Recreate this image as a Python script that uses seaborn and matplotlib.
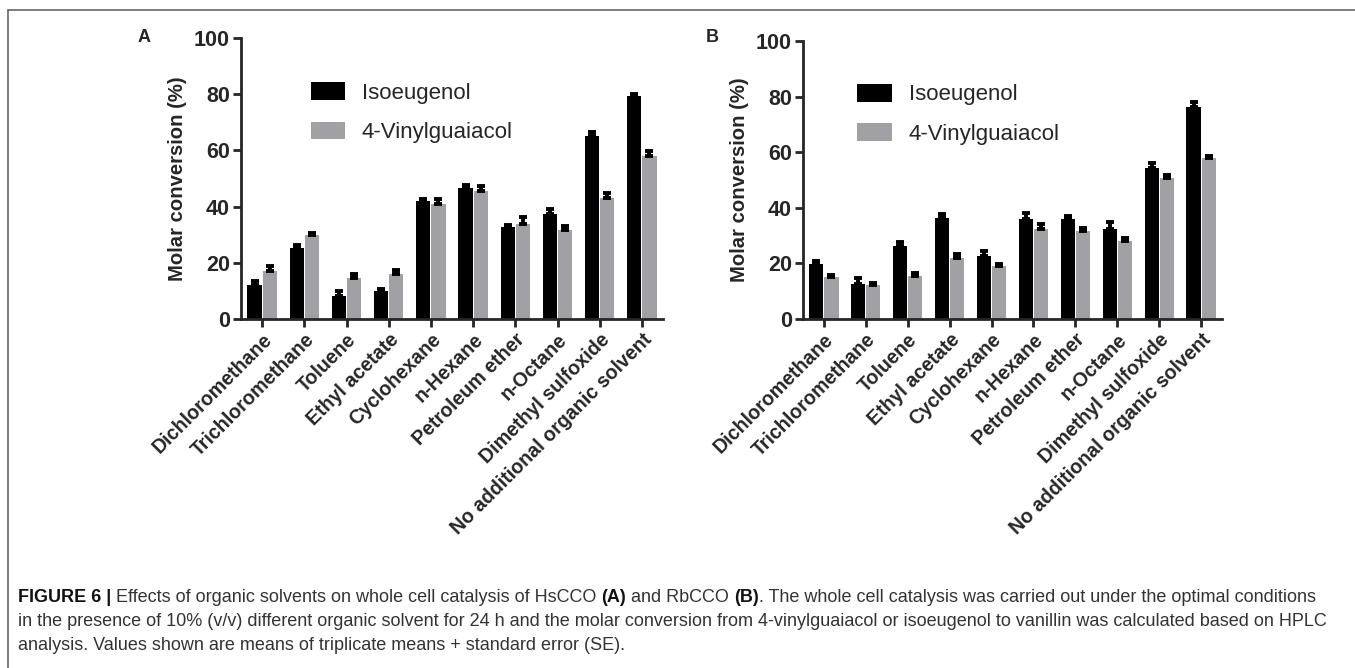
import matplotlib
matplotlib.use("Agg")
import matplotlib.pyplot as plt
import seaborn as sns
import pandas as pd
from matplotlib.lines import Line2D

# solvents on the x axis (same for both panels)
solvents = ["Dichloromethane", "Trichloromethane", "Toluene", "Ethyl acetate",
            "Cyclohexane", "n-Hexane", "Petroleum ether", "n-Octane",
            "Dimethyl sulfoxide", "No additional organic solvent"]
compounds = ["Isoeugenol", "4-Vinylguaiacol"]

# panel A (HsCCO), molar conversion %, and SE
a_iso = [12.2, 25.1, 8.1, 10.1, 41.9, 46.6, 32.7, 37.4, 65.2, 79.5]
a_vg = [17.2, 29.8, 14.5, 15.9, 40.9, 45.7, 33.7, 31.8, 43.1, 58.0]
a_iso_se = [1.4, 1.4, 1.7, 0.7, 0.9, 1.0, 0.6, 1.7, 1.2, 0.7]
a_vg_se = [1.5, 0.8, 1.6, 1.4, 1.9, 1.6, 2.5, 1.4, 1.7, 1.8]

# panel B (RbCCO)
b_iso = [19.9, 12.6, 26.4, 36.5, 22.8, 35.9, 35.9, 32.4, 54.4, 76.3]
b_vg = [15.0, 12.1, 15.3, 21.9, 19.1, 32.3, 31.8, 28.2, 50.8, 57.8]
b_iso_se = [0.8, 2.1, 1.4, 1.3, 1.8, 2.4, 1.3, 2.6, 1.6, 1.8]
b_vg_se = [0.9, 0.8, 1.2, 1.5, 0.6, 1.9, 1.0, 0.9, 1.0, 0.9]

# caption lines as (text, bold) pieces
caption_lines = [
    [("FIGURE 6 |", True), (" Effects of organic solvents on whole cell catalysis of HsCCO ", False),
     ("(A)", True), (" and RbCCO ", False), ("(B)", True),
     (". The whole cell catalysis was carried out under the optimal conditions", False)],
    [("in the presence of 10% (v/v) different organic solvent for 24 h and the molar conversion "
      "from 4-vinylguaiacol or isoeugenol to vanillin was calculated based on HPLC", False)],
    [("analysis. Values shown are means of triplicate means + standard error (SE).", False)],
]

sns.set_style("ticks")
plt.rcParams['font.family'] = ['Liberation Sans', 'DejaVu Sans']

colors = {"Isoeugenol": "#000000", "4-Vinylguaiacol": "#a1a1a5"}

W, H = 1355, 668
fig = plt.figure(figsize=(W / 100, H / 100), dpi=100)


def make_df(iso, vg):
    return pd.DataFrame({
        "solvent": solvents * 2,
        "compound": [compounds[0]] * len(solvents) + [compounds[1]] * len(solvents),
        "value": list(iso) + list(vg),
    })


def draw_panel(rect, iso, vg, iso_se, vg_se, letter, letter_xy, leg_anchor):
    ax = fig.add_axes(rect)
    df = make_df(iso, vg)
    sns.barplot(data=df, x="solvent", y="value", hue="compound", order=solvents,
                hue_order=compounds, palette=colors, width=0.72, gap=0.06,
                errorbar=None, linewidth=0, ax=ax)
    # upward-only error bars on top of each bar
    for cont, se in zip(ax.containers, [iso_se, vg_se]):
        xs = [p.get_x() + p.get_width() / 2 for p in cont.patches]
        hs = [p.get_height() for p in cont.patches]
        ax.errorbar(xs, hs, yerr=[[0] * len(se), se], fmt="none", ecolor="black",
                    elinewidth=2.8, capsize=3.2, capthick=2.8, zorder=3)
    ax.set_xlim(-0.5, 9.5)
    ax.set_ylim(0, 100)
    ax.set_yticks([0, 20, 40, 60, 80, 100])
    ax.set_xlabel("")
    ax.set_ylabel("Molar conversion (%)", fontsize=14.6, fontweight="bold", labelpad=5)
    sns.despine(ax=ax)
    for s in ["left", "bottom"]:
        ax.spines[s].set_linewidth(2.0)
    ax.tick_params(width=2.0, length=6, pad=2)
    ax.tick_params(axis="y", labelsize=15.5)
    for t in ax.get_yticklabels():
        t.set_fontweight("bold")
    ax.set_xticks(range(len(solvents)))
    ax.set_xticklabels(solvents, rotation=45, ha="right", rotation_mode="anchor",
                       fontsize=14.1, fontweight="bold")
    ax.legend(loc="upper left", bbox_to_anchor=leg_anchor, frameon=False, fontsize=16,
              handlelength=1.55, handleheight=0.85, handletextpad=0.75, labelspacing=0.8,
              borderpad=0, borderaxespad=0)
    fig.text(letter_xy[0] / W, 1 - letter_xy[1] / H, letter, fontsize=13,
             fontweight="bold", ha="center", va="center")
    return ax


draw_panel([241 / W, 1 - 319 / H, 422 / W, 281 / H], a_iso, a_vg, a_iso_se, a_vg_se,
           "A", (144, 38), (0.165, 0.842))
draw_panel([803 / W, 1 - 319 / H, 419 / W, 278 / H], b_iso, b_vg, b_iso_se, b_vg_se,
           "B", (712, 38), (0.13, 0.846))

# partial frame around the figure
fig.add_artist(Line2D([8 / W, 1], [1 - 10 / H, 1 - 10 / H], color="#666666", lw=1.2))
fig.add_artist(Line2D([8 / W, 8 / W], [0, 1 - 10 / H], color="#666666", lw=1.2))

# caption, pieces laid out one after another
cap_fs = 13.0
renderer = fig.canvas.get_renderer()
for row, (pieces, y) in enumerate(zip(caption_lines, [598, 622, 646])):
    x = 18
    for txt, bold in pieces:
        t = fig.text(x / W, 1 - y / H, txt, fontsize=cap_fs, va="center",
                     fontweight="bold" if bold else "normal",
                     color="#111111" if bold else "#333333")
        x += t.get_window_extent(renderer).width

fig.savefig("out.png", dpi=100)
plt.close(fig)
